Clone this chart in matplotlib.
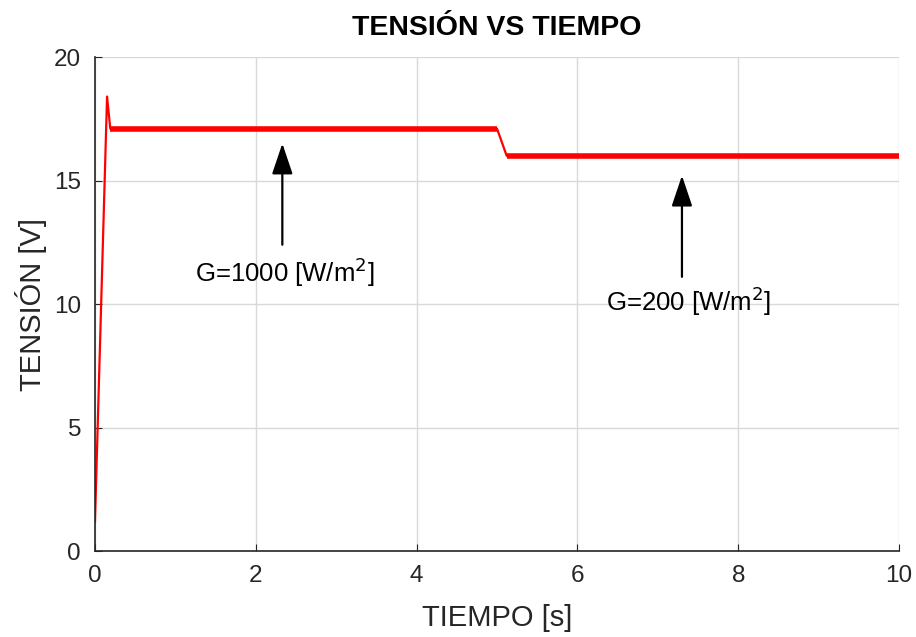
import matplotlib.pyplot as plt

plt.rcParams['font.family'] = ['Liberation Sans', 'DejaVu Sans']

# key points of the voltage trace (time [s], voltage [V])
time_s = [0.0, 0.15, 0.19, 0.25, 5.0, 5.12, 10.0]
voltage_v = [1.2, 18.4, 17.1, 17.1, 17.1, 16.0, 16.0]

# steady stretches where the switching ripple shows as a band
ripple_start = [0.19, 5.12]
ripple_end = [5.0, 10.0]
ripple_level = [17.1, 16.0]

# annotations
labels = ['G=1000 [W/m$^2$]', 'G=200 [W/m$^2$]']
label_x = [2.36, 7.38]
label_y = [11.3, 10.1]
arrow_x = [2.33, 7.30]
arrow_tail = [12.4, 11.1]
arrow_tip = [16.5, 15.2]

fig = plt.figure(figsize=(9.16, 6.37), dpi=100)
ax = fig.add_axes([0.1037, 0.135, 0.8778, 0.7755])

ax.plot(time_s, voltage_v, color='#ff0000', linewidth=1.6)
for x0, x1, lv in zip(ripple_start, ripple_end, ripple_level):
    ax.plot([x0, x1], [lv, lv], color='#ff0000', linewidth=4.0,
            solid_capstyle='butt')

for txt, tx, ty, xa, yt, yh in zip(labels, label_x, label_y, arrow_x,
                                   arrow_tail, arrow_tip):
    ax.annotate('', xy=(xa, yh), xytext=(xa, yt),
                arrowprops=dict(arrowstyle='-|>,head_length=0.95,head_width=0.32',
                                mutation_scale=20, color='black', lw=1.6,
                                shrinkA=0, shrinkB=0))
    ax.text(tx, ty, txt, ha='center', va='center', fontsize=18.5)

ax.set_xlim(0, 10)
ax.set_ylim(0, 20)
ax.set_xticks([0, 2, 4, 6, 8, 10])
ax.set_yticks([0, 5, 10, 15, 20])
ax.grid(True, color='#d9d9d9', linewidth=1.0)
ax.set_axisbelow(True)
for side in ['top', 'right']:
    ax.spines[side].set_visible(False)
for side in ['left', 'bottom']:
    ax.spines[side].set_color('#262626')
    ax.spines[side].set_linewidth(1.2)
ax.tick_params(direction='in', length=5, labelsize=17.5, colors='#262626',
               pad=10)

ax.set_xlabel('TIEMPO [s]', fontsize=21, color='#262626', labelpad=12)
ax.set_ylabel('TENSIÓN [V]', fontsize=21, color='#262626', labelpad=5)
ax.set_title('TENSIÓN VS TIEMPO', fontsize=20.5, fontweight='bold', pad=16)

fig.savefig('out.png', dpi=100)
